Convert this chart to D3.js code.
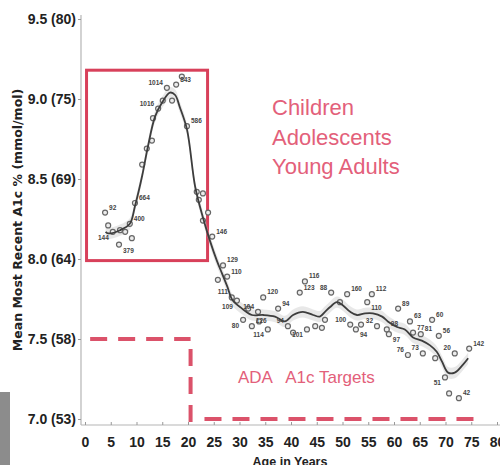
<!DOCTYPE html>
<html><head><meta charset="utf-8">
<script src="https://cdn.jsdelivr.net/npm/d3@7/dist/d3.min.js"></script>
<style>body{margin:0;background:#fff}svg{display:block}</style>
</head><body>
<svg id="c" width="500" height="465"></svg>
<script>
// ---- data ----
const yTicks = [7.0, 7.5, 8.0, 8.5, 9.0, 9.5];
const yTickLabels = ["7.0 (53)", "7.5 (58)", "8.0 (64)", "8.5 (69)", "9.0 (75)", "9.5 (80)"];
const xTicks = [0,5,10,15,20,25,30,35,40,45,50,55,60,65,70,75,80];

// fitted curve
const curveAge = [4.0,4.5,6.8,8.7,9.7,11.1,12.2,13.6,15.0,16.5,17.5,18.4,19.8,21.4,22.9,24.3,25.6,26.6,27.6,28.7,30.5,32.4,34.6,36.9,38.8,40.4,42.3,44.3,45.6,46.6,47.6,48.9,50.1,51.5,52.8,54.4,55.9,57.7,58.8,60.6,62.1,63.7,65.4,67.0,68.3,69.3,70.5,71.8,73.4,74.4];
const curveVal = [8.17,8.16,8.18,8.22,8.33,8.52,8.70,8.89,8.98,9.04,9.025,8.95,8.81,8.45,8.26,8.11,7.99,7.91,7.83,7.74,7.69,7.65,7.65,7.64,7.61,7.65,7.67,7.65,7.64,7.67,7.70,7.73,7.71,7.67,7.65,7.66,7.66,7.64,7.61,7.575,7.56,7.51,7.49,7.46,7.42,7.36,7.29,7.29,7.34,7.38];

// observed points (age, mean A1c, n)
const ptAge = [3.9,4.5,5.4,6.8,7.8,9.1,6.6,8.7,9.7,11.1,12.0,13.0,13.2,14.2,15.1,15.9,16.9,17.7,18.8,19.8,21.7,22.9,22.1,22.9,23.9,24.7,26.8,25.8,27.6,28.5,29.5,31.7,34.6,33.6,37.5,30.7,32.4,33.8,35.5,39.4,40.4,41.7,42.7,43.1,44.7,46.0,46.6,47.8,49.5,50.9,51.5,52.6,53.6,54.8,55.7,56.7,58.6,59.0,60.8,62.7,63.7,63.1,65.6,65.2,67.4,68.0,68.7,71.8,69.9,70.7,72.6,74.6];
const ptVal = [8.29,8.21,8.17,8.18,8.17,8.13,8.09,8.22,8.35,8.59,8.69,8.74,8.88,8.94,8.99,9.07,8.99,9.09,9.14,8.83,8.42,8.41,8.37,8.24,8.29,8.14,7.96,7.87,7.89,7.76,7.74,7.69,7.76,7.67,7.69,7.62,7.58,7.61,7.56,7.58,7.54,7.79,7.86,7.56,7.58,7.57,7.62,7.79,7.73,7.78,7.59,7.56,7.59,7.73,7.78,7.58,7.56,7.53,7.69,7.40,7.54,7.61,7.41,7.53,7.62,7.38,7.52,7.41,7.26,7.16,7.13,7.44];
const ptN = ["92","","144","","","","379","400","664","","","","","1016","","1014","","843","","586","","","","","","146","129","","110","111","109","","120","104","94","80","126","","114","94","","123","116","101","","","","88","","160","100","94","","110","112","32","98","97","89","76","77","63","73","81","60","","56","20","51","","42","142"];
// label placement: r = right, l = left, rb/lb = right/left below
const ptSide = ["r","","lb","","","","rb","r","r","","","","","l","","l","","r","","r","","","","","","r","r","","r","l","lb","","r","l","r","lb","r","","lb","l","","r","r","lb","","","","l","","r","l","rb","","rb","r","l","r","rb","r","l","r","r","l","r","r","","r","l","lb","","r","r"];

const boxLines = ["Children", "Adolescents", "Young Adults"];
const targetLabel = "ADA   A1c Targets";
const targetA1c = [7.5, 7.0];
const boxRange = {age:[0.3, 23.8], a1c:[7.99, 9.18]};

// ---- drawing ----
const svg = d3.select("#c");
const x = d3.scaleLinear().domain([0, 80]).range([85, 497]);
const y = d3.scaleLinear().domain([7.0, 9.5]).range([419, 19]);
const red = "#d8405a", pink = "#e3607a";

// left edge gray strip
svg.append("rect").attr("x",0).attr("y",392).attr("width",10).attr("height",73).attr("fill","#8c8c8c");

// axes
svg.append("line").attr("x1",81).attr("x2",81).attr("y1",15).attr("y2",425).attr("stroke","#b5b5b5").attr("stroke-width",1.2);
svg.append("line").attr("x1",81).attr("x2",500).attr("y1",425).attr("y2",425).attr("stroke","#b5b5b5").attr("stroke-width",1.2);

const ya = svg.append("g").attr("transform","translate(81,0)")
  .call(d3.axisLeft(y).tickValues(yTicks).tickFormat((d,i)=>yTickLabels[i]).tickSize(3).tickPadding(2));
ya.select(".domain").remove();
ya.selectAll("line").attr("stroke","#999");
ya.selectAll("text").attr("font-family","Liberation Sans, Arial, sans-serif").attr("font-weight","bold").attr("font-size",14).attr("fill","#222");

const xa = svg.append("g").attr("transform","translate(0,425)")
  .call(d3.axisBottom(x).tickValues(xTicks).tickSizeInner(-3).tickSizeOuter(0).tickPadding(12));
xa.select(".domain").remove();
xa.selectAll("line").attr("stroke","#999");
xa.selectAll("text").attr("font-family","Liberation Sans, Arial, sans-serif").attr("font-weight","bold").attr("font-size",14).attr("fill","#222");

svg.append("text").attr("x",290).attr("y",466).attr("text-anchor","middle")
  .attr("font-family","Liberation Sans, Arial, sans-serif").attr("font-weight","bold").attr("font-size",12.5).attr("fill","#222").text("Age in Years");
svg.append("text").attr("transform","translate(22,220) rotate(-90)").attr("text-anchor","middle")
  .attr("font-family","DejaVu Sans, sans-serif").attr("font-weight","bold").attr("font-size",12.5).attr("fill","#222")
  .text("Mean Most Recent A1c % (mmol/mol)");

// red box
svg.append("rect").attr("x",x(boxRange.age[0])).attr("y",y(boxRange.a1c[1]))
  .attr("width",x(boxRange.age[1])-x(boxRange.age[0])).attr("height",y(boxRange.a1c[0])-y(boxRange.a1c[1]))
  .attr("fill","none").attr("stroke",red).attr("stroke-width",3);

boxLines.forEach((t,i)=>{
  svg.append("text").attr("x",272).attr("y",115+i*29.5).attr("font-family","Liberation Sans, Arial, sans-serif")
    .attr("font-size",22).attr("fill",pink).text(t);
});

// dashed targets
function dline(x1,y1,x2,y2){
  svg.append("line").attr("x1",x1).attr("y1",y1).attr("x2",x2).attr("y2",y2)
    .attr("stroke",red).attr("stroke-width",4).attr("stroke-dasharray","17,11").attr("opacity",0.9);
}
dline(x(1.0), y(targetA1c[0]), x(20.5), y(targetA1c[0]));
dline(x(20.5), y(targetA1c[0])+10, x(20.5), 424);
dline(x(23.2), y(targetA1c[1]), x(76.5), y(targetA1c[1]));
svg.append("text").attr("x",238).attr("y",383).attr("font-family","Liberation Sans, Arial, sans-serif")
  .attr("font-size",17).attr("fill",pink).style("white-space","pre").text(targetLabel);

// curve shade and line
const cdata = curveAge.map((a,i)=>[a,curveVal[i]]);
svg.append("path").datum(cdata)
  .attr("d", d3.area().x(d=>x(d[0])).y0(d=>y(d[1]-0.035)).y1(d=>y(d[1]+0.035)).curve(d3.curveCatmullRom))
  .attr("fill","#bdbdbd").attr("opacity",0.35);

// points
const pts = ptAge.map((a,i)=>({a, v:ptVal[i], n:ptN[i], s:ptSide[i]}));
svg.append("g").selectAll("circle").data(pts).join("circle")
  .attr("cx",d=>x(d.a)).attr("cy",d=>y(d.v)).attr("r",2.5)
  .attr("fill","#ececec").attr("stroke","#666").attr("stroke-width",1.2);

svg.append("path").datum(cdata)
  .attr("d", d3.line().x(d=>x(d[0])).y(d=>y(d[1])).curve(d3.curveCatmullRom))
  .attr("fill","none").attr("stroke","#3d3d3d").attr("stroke-width",1.8);

svg.append("g").selectAll("text").data(pts.filter(d=>d.n)).join("text")
  .attr("x",d=>x(d.a)+(d.s[0]==="l"?-4:4))
  .attr("y",d=>y(d.v)+(d.s.length>1?8:-3))
  .attr("text-anchor",d=>d.s[0]==="l"?"end":"start")
  .attr("font-family","Liberation Sans Narrow, Liberation Sans, Arial, sans-serif").attr("font-weight","bold")
  .attr("font-size",6.5).attr("fill","#444").text(d=>d.n);
</script>
</body></html>
